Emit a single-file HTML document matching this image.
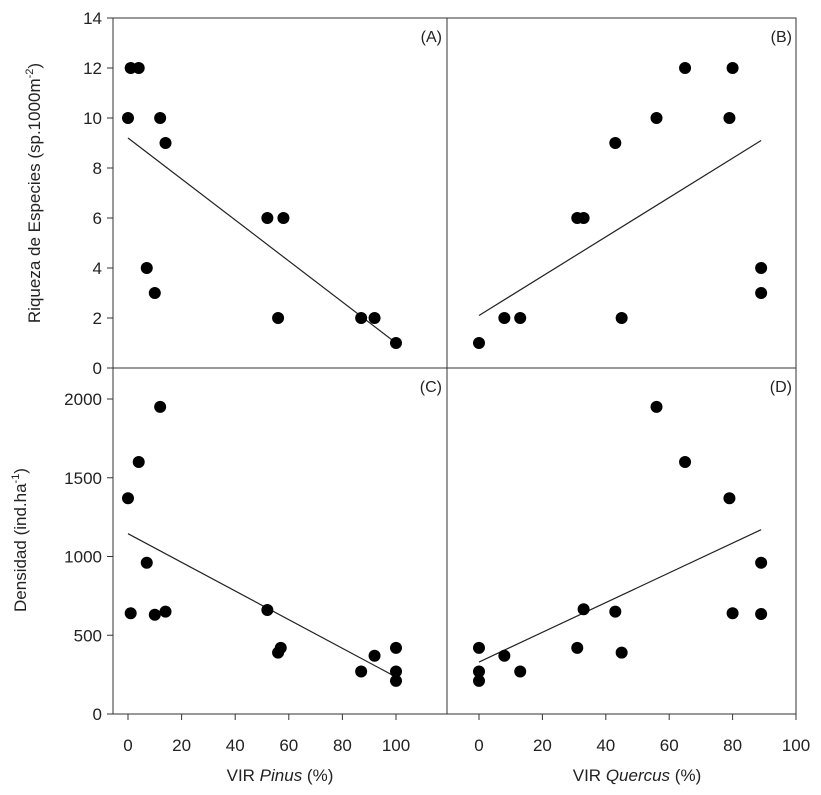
<!DOCTYPE html>
<html><head><meta charset="utf-8"><style>body{margin:0;background:#fff}svg{font-family:"Liberation Sans",sans-serif}</style></head>
<body>
<svg id="c" width="821" height="790" viewBox="0 0 821 790"></svg>
<script>
const aX=[0,1,4,12,14,7,10,52,58,56,87,92,100];
const aY=[10,12,12,10,9,4,3,6,6,2,2,2,1];
const aFit=[[0,9.2],[100,1]];
const bX=[0,8,13,31,33,43,45,56,65,79,80,89,89];
const bY=[1,2,2,6,6,9,2,10,12,10,12,4,3];
const bFit=[[0,2.1],[89,9.1]];
const cX=[0,1,4,12,7,10,14,52,56,57,87,92,100,100,100];
const cY=[1370,640,1600,1950,960,630,650,660,390,420,270,370,420,270,210];
const cFit=[[0,1145],[100,235]];
const dX=[0,0,0,8,13,31,33,43,45,56,65,79,80,89,89];
const dY=[420,270,210,370,270,420,665,650,390,1950,1600,1370,640,960,635];
const dFit=[[0,330],[89,1170]];
const xTicks=[0,20,40,60,80,100];
const yTopTicks=[0,2,4,6,8,10,12,14];
const yBotTicks=[0,500,1000,1500,2000];
const NS="http://www.w3.org/2000/svg";
const svg=document.getElementById('c');
function mk(t,a,txt){const e=document.createElementNS(NS,t);for(const k in a)e.setAttribute(k,a[k]);if(txt!==undefined)e.textContent=txt;svg.appendChild(e);return e;}
const xL=v=>128+v*2.68, xR=v=>479+v*3.17;
const yT=v=>368-v*25, yB=v=>714-v*0.1575;
// frames
let e;
e=mk('rect',{x:113,y:18,width:683,height:696,fill:'none',stroke:'#333','stroke-width':1});

e=mk('line',{x1:447,y1:18,x2:447,y2:714,stroke:'#333'});

e=mk('line',{x1:113,y1:368,x2:796,y2:368,stroke:'#333'});

// x ticks
xTicks.forEach(t=>{
 [[xL,'left'],[xR,'right']].forEach(([f,s])=>{
  mk('line',{x1:f(t),y1:714,x2:f(t),y2:720,stroke:'#333'});
  e=mk('text',{x:f(t),y:751,'font-size':17,'text-anchor':'middle',fill:'#222'},t);
  
 });
});
yTopTicks.forEach(t=>{
 mk('line',{x1:107,y1:yT(t),x2:113,y2:yT(t),stroke:'#333'});
 e=mk('text',{x:102,y:yT(t)+6,'font-size':17,'text-anchor':'end',fill:'#222'},t);
 
});
yBotTicks.forEach(t=>{
 if(t===2000||t<2000){mk('line',{x1:107,y1:yB(t),x2:113,y2:yB(t),stroke:'#333'});}
 e=mk('text',{x:102,y:yB(t)+6,'font-size':17,'text-anchor':'end',fill:'#222'},t);
 
});
function panel(xs,ys,fit,fx,fy,name){
 e=mk('line',{x1:fx(fit[0][0]),y1:fy(fit[0][1]),x2:fx(fit[1][0]),y2:fy(fit[1][1]),stroke:'#222','stroke-width':1.2});
 
 xs.forEach((x,i)=>{
  e=mk('circle',{cx:fx(x),cy:fy(ys[i]),r:6,fill:'#000'});
  
 });
}
panel(aX,aY,aFit,xL,yT,'panel-a');
panel(bX,bY,bFit,xR,yT,'panel-b');
panel(cX,cY,cFit,xL,yB,'panel-c');
panel(dX,dY,dFit,xR,yB,'panel-d');
[['(A)',442,42],['(B)',792,42],['(C)',442,392],['(D)',792,392]].forEach(([t,x,y])=>{
 e=mk('text',{x:x,y:y,'font-size':16,'text-anchor':'end',fill:'#222'},t);
 
});
</script>
<svg width="821" height="790" style="position:absolute;left:0;top:0">
<text x="280" y="781" font-size="17" text-anchor="middle" fill="#222" font-family="Liberation Sans">VIR <tspan font-style="italic">Pinus</tspan> (%)</text>
<text x="637" y="781" font-size="17" text-anchor="middle" fill="#222" font-family="Liberation Sans">VIR <tspan font-style="italic">Quercus</tspan> (%)</text>
<text transform="translate(40,193) rotate(-90)" font-size="17" text-anchor="middle" fill="#222" font-family="Liberation Sans">Riqueza de Especies (sp.1000m<tspan font-size="11" dy="-7">-2</tspan><tspan dy="7">)</tspan></text>
<text transform="translate(26,540) rotate(-90)" font-size="17" text-anchor="middle" fill="#222" font-family="Liberation Sans">Densidad (ind.ha<tspan font-size="11" dy="-7">-1</tspan><tspan dy="7">)</tspan></text>
</svg>
</body></html>
